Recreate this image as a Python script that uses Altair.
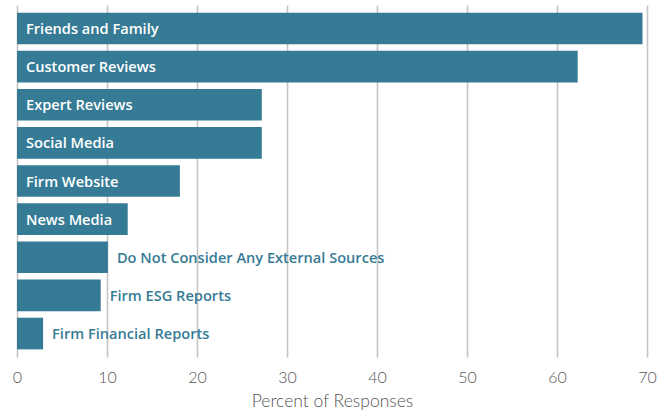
import altair as alt
import pandas as pd

sources = [
    "Friends and Family",
    "Customer Reviews",
    "Expert Reviews",
    "Social Media",
    "Firm Website",
    "News Media",
    "Do Not Consider Any External Sources",
    "Firm ESG Reports",
    "Firm Financial Reports",
]
percent = [69.5, 62.3, 27.2, 27.2, 18.1, 12.3, 10.1, 9.3, 2.9]

df = pd.DataFrame({"source": sources, "pct": percent})

TEAL = "#367b95"

y_enc = alt.Y(
    "source:N",
    sort=sources,
    axis=None,
    scale=alt.Scale(paddingInner=0.17, paddingOuter=0.2),
)

bars = alt.Chart(df).mark_bar(color=TEAL).encode(
    x=alt.X(
        "pct:Q",
        scale=alt.Scale(domain=[0, 70], nice=False),
        axis=alt.Axis(
            values=[0, 10, 20, 30, 40, 50, 60, 70],
            title="Percent of Responses",
            grid=True,
            gridColor="#c4c4c4",
            gridWidth=1.6,
            domain=False,
            ticks=False,
            labelFlush=False,
            labelPadding=12,
            labelFont="Lato",
            labelFontSize=16,
            labelFontWeight=300,
            labelColor="#555555",
            titleFont="Lato",
            titleFontSize=17.5,
            titleFontWeight=300,
            titleColor="#555555",
            titlePadding=7,
        ),
    ),
    y=y_enc,
)

labels = alt.Chart(df).transform_calculate(
    lx="datum.pct > 11 ? 0 : datum.pct",
).mark_text(
    align="left",
    baseline="middle",
    dx=9,
    dy=1.5,
    font="Open Sans",
    fontSize=14.6,
    fontWeight=600,
).encode(
    x=alt.X("lx:Q", scale=alt.Scale(domain=[0, 70], nice=False)),
    y=y_enc,
    text="source:N",
    color=alt.condition("datum.pct > 11", alt.value("white"), alt.value(TEAL)),
)

chart = (
    alt.layer(bars, labels)
    .properties(
        width=630,
        height=352,
        autosize=alt.AutoSizeParams(type="none"),
        padding={"left": 17, "top": 5, "right": 18, "bottom": 55},
    )
    .configure_view(stroke=None)
)

chart.save("out.html", embed_options={"renderer": "svg", "actions": False})
